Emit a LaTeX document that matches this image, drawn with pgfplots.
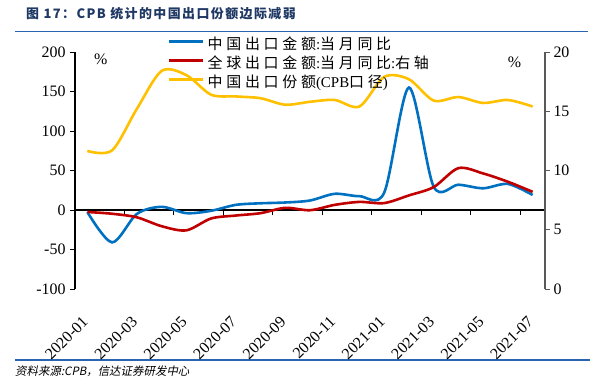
\documentclass[border=0pt]{standalone}
\usepackage{fontspec}
\usepackage{pgfplots}
\pgfplotsset{compat=1.18}
\setmainfont{Liberation Serif}
\newfontfamily\cjk{Noto Sans CJK SC}[LetterSpace=25]
\newfontfamily\cjkt{Noto Sans CJK SC}[LetterSpace=11]
\newfontfamily\cjki{Noto Sans CJK SC}[FakeSlant=0.2]
\definecolor{cblue}{RGB}{0,112,192}
\definecolor{cred}{RGB}{192,0,0}
\definecolor{cyellow}{RGB}{255,192,0}
\definecolor{ctitle}{RGB}{31,56,100}
\definecolor{crule}{RGB}{40,100,175}
\definecolor{cgray}{RGB}{89,89,89}

\pgfplotstableread{
idx blue
0 -2.5
1 -41
2 -5
3 4
4 -4
5 -1
6 6.5
7 8.5
8 9.5
9 12
10 20.5
11 17.5
12 22
13 155
14 29.5
15 32
16 27.5
17 33
18 19
}\tblblue

\pgfplotstableread{
idx red yellow
0 6.5 11.65
1 6.35 11.7
2 6.05 15.2
3 5.3 18.4
4 4.95 18.05
5 5.95 16.4
6 6.2 16.25
7 6.4 16.1
8 6.85 15.55
9 6.65 15.8
10 7.1 15.95
11 7.35 15.4
12 7.25 17.9
13 7.9 17.7
14 8.6 15.9
15 10.2 16.2
16 9.75 15.7
17 9.05 15.95
18 8.2 15.4
}\tblright

\newcommand{\tickfont}{\fontsize{16}{16}\selectfont}
\newcommand{\legfont}{\fontsize{15}{15}\selectfont}

\begin{document}
\begin{tikzpicture}
\useasboundingbox (0bp,0bp) rectangle (594bp,-386bp);

% title
\node[anchor=west, inner sep=0pt, text=ctitle] at (26bp,-14bp)
  {\fontsize{13}{13}\selectfont\cjkt\bfseries 图 17：CPB 统计的中国出口份额边际减弱};
\draw[crule, line width=1.6bp] (15bp,-31.5bp) -- (588bp,-31.5bp);
\draw[crule, line width=1.6bp] (15bp,-360bp) -- (590bp,-360bp);
\node[anchor=west, inner sep=0pt] at (15bp,-371bp)
  {\fontsize{11.5}{11.5}\selectfont\cjki 资料来源:CPB，信达证券研发中心};

% zero line with ticks
\begin{axis}[
  at={(75bp,-210bp)}, anchor=south west,
  width=470bp, height=158bp, scale only axis,
  xmin=-0.5, xmax=18.5, ymin=0, ymax=1,
  axis x line*=bottom, axis y line=none,
  x axis line style={black, line width=1.2bp, -},
  xtick={1.5,3.5,...,17.5}, xticklabels={},
  tick align=outside, major tick length=5bp,
  xtick style={black, line width=1bp},
]
\addplot[draw=none] coordinates {(0,0.5)};
\end{axis}

% left axis
\begin{axis}[
  at={(75bp,-289bp)}, anchor=south west,
  width=470bp, height=237bp, scale only axis,
  xmin=-0.5, xmax=18.5, ymin=-100, ymax=200,
  axis y line*=left, axis x line*=bottom,
  x axis line style={draw=none},
  y axis line style={black, line width=1.2bp, -},
  ytick={-100,-50,...,200},
  xtick={0,2,...,18},
  xticklabels={2020-01,2020-03,2020-05,2020-07,2020-09,2020-11,2021-01,2021-03,2021-05,2021-07},
  xtick style={draw=none},
  ytick style={black, line width=1bp},
  tick align=outside, major tick length=5bp,
  /pgf/number format/assume math mode=true,
  tick label style={font=\tickfont},
  x tick label style={xshift=-6bp, yshift=-21bp, rotate=45, anchor=north east, inner sep=0pt},
  y tick label style={xshift=-1bp},
  clip=false,
]
\addplot[cblue, line width=2.6bp, smooth] table[x=idx, y=blue] {\tblblue};
\end{axis}

% right axis
\begin{axis}[
  at={(75bp,-289bp)}, anchor=south west,
  width=470bp, height=237bp, scale only axis,
  xmin=-0.5, xmax=18.5, ymin=0, ymax=20,
  axis y line*=right, axis x line=none,
  y axis line style={cgray, line width=1.2bp, -},
  ytick={0,5,...,20},
  ytick style={cgray, line width=1bp},
  tick align=outside, major tick length=5bp,
  /pgf/number format/assume math mode=true,
  tick label style={font=\tickfont},
  clip=false,
  legend cell align=left,
  legend style={at={(axis description cs:0.198,1.064)}, anchor=north west,
    draw=none, fill=none, inner sep=0pt, outer sep=0pt, row sep=0pt,
    nodes={inner xsep=3bp, inner ysep=0pt, text height=13bp, text depth=6bp},
    font=\legfont},
  legend image code/.code={\draw[#1] (0bp,5bp) -- (34bp,5bp);},
]
\addlegendimage{cblue, line width=2.6bp}
\addlegendentry{{\cjk 中国出口金额}:{\cjk 当月同比}}
\addplot[cred, line width=2.6bp, smooth] table[x=idx, y=red] {\tblright};
\addlegendentry{{\cjk 全球出口金额}:{\cjk 当月同比}:{\cjk 右轴}}
\addplot[cyellow, line width=2.6bp, smooth] table[x=idx, y=yellow] {\tblright};
\addlegendentry{{\cjk 中国出口份额}(CPB{\cjk 口径})}
\node[anchor=center, font=\fontsize{16}{16}\selectfont] at (rel axis cs:0.055,0.97) {\%};
\node[anchor=center, font=\fontsize{16}{16}\selectfont] at (rel axis cs:0.935,0.955) {\%};
\end{axis}
\end{tikzpicture}
\end{document}
